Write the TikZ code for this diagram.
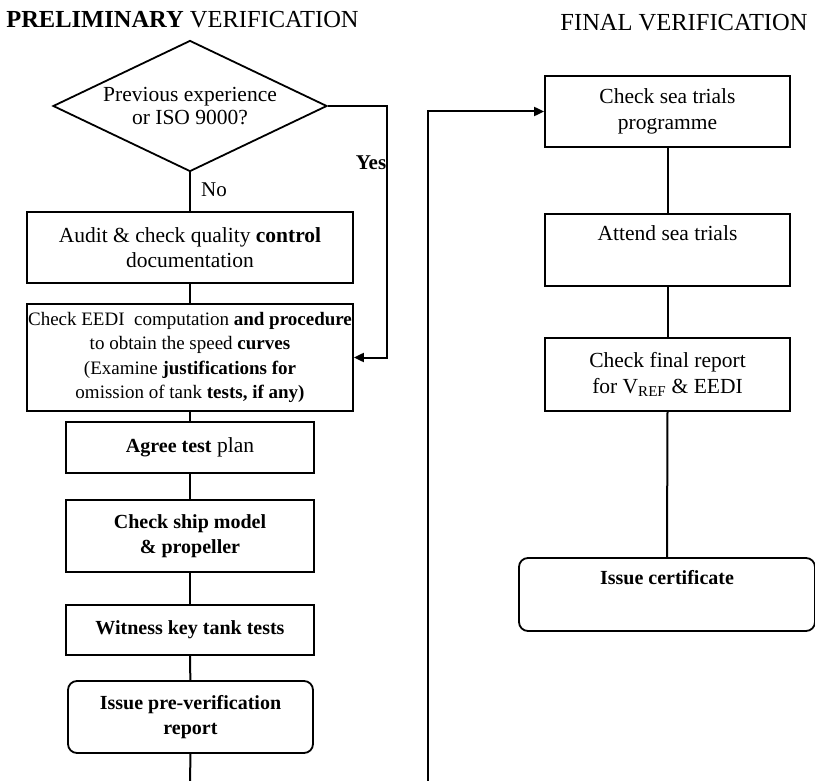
\documentclass[tikz,border=0pt]{standalone}
\usepackage{fontspec}
\setmainfont{Liberation Serif}
\usetikzlibrary{arrows.meta,shapes.geometric}
\newcommand{\bt}[1]{{\fontsize{20}{25.5}\selectfont\bfseries #1}}
\begin{document}
\begin{tikzpicture}[x=1pt,y=-1pt,
  box/.style={draw, line width=1.8pt, align=center, inner sep=0pt, font=\fontsize{21.5}{25.5}\selectfont},
  rbox/.style={box, rounded corners=9pt},
  dec/.style={box, diamond, aspect=2.09, minimum width=274pt, minimum height=131pt},
  conn/.style={line width=2pt},
  arr/.style={conn, -{Triangle[length=10pt,width=9pt]}},
  ttl/.style={font=\fontsize{24.5}{28}\selectfont, inner sep=0pt},
  lbl/.style={font=\fontsize{21}{25}\selectfont, inner sep=0pt}]
\useasboundingbox (0,0) rectangle (815,781);

% titles
\node[ttl] (t1) at (182.5,20) {\textbf{PRELIMINARY} VERIFICATION};
\node[ttl] (t2) at (684,23) {FINAL VERIFICATION};

% left column
\node[dec, font=\fontsize{21.5}{23}\selectfont] (q) at (190,106) {Previous experience\\or ISO 9000?};
\node[box, minimum width=326pt, minimum height=71pt] (audit) at (190,247.5)
  {Audit \& check quality \textbf{control}\\documentation};
\node[box, minimum width=326pt, minimum height=107pt, font=\fontsize{19}{24.5}\selectfont] (eedi) at (190,357.5)
  {Check EEDI\ \ computation \textbf{and procedure}\\to obtain the speed \textbf{curves}\\(Examine \textbf{justifications for}\\omission of tank \textbf{tests, if any)}};
\node[box, minimum width=248pt, minimum height=51pt] (plan) at (190,447.5)
  {\bt{Agree test} plan};
\node[box, minimum width=248pt, minimum height=72pt] (ship) at (190,536)
  {\bt{Check ship model}\\\bt{\& propeller}};
\node[box, minimum width=248pt, minimum height=50pt] (wit) at (190,630)
  {\bt{Witness key tank tests}};
\node[rbox, minimum width=245pt, minimum height=72pt] (pre) at (190.5,717)
  {\bt{Issue pre-verification}\\\bt{report}};

% right column
\node[box, minimum width=245pt, minimum height=71pt] (sea) at (667.5,111.5)
  {Check sea trials\\programme};
\node[box, minimum width=245pt, minimum height=72pt] (att) at (667.5,250)
  {Attend sea trials\\\strut};
\node[box, minimum width=245pt, minimum height=73pt] (fin) at (667.5,374.5)
  {Check final report\\for V\textsubscript{REF} \& EEDI};
\node[rbox, minimum width=296pt, minimum height=73pt] (cert) at (667,594.5)
  {\bt{Issue certificate}\\\strut};

% labels
\node[lbl] (yes) at (371,163) {\textbf{Yes}};
\node[lbl] (no) at (214,190) {No};

% connectors
\coordinate (bl) at (190,781);
\coordinate (fb) at (428,781);
\draw[conn] (q.south) -- (audit.north);
\draw[arr] (q.east) -- ++(59,0) |- (eedi.east);
\draw[conn] (audit) -- (eedi);
\draw[conn] (eedi) -- (plan);
\draw[conn] (plan) -- (ship);
\draw[conn] (ship) -- (wit);
\draw[conn] (wit) -- (pre);
\draw[conn] (pre.south) -- (bl);
\draw[arr] (fb) |- (sea.west);
\draw[conn] (sea) -- (att);
\draw[conn] (att) -- (fin);
\draw[conn] (fin.south) -- (cert.north);
\end{tikzpicture}
\end{document}
